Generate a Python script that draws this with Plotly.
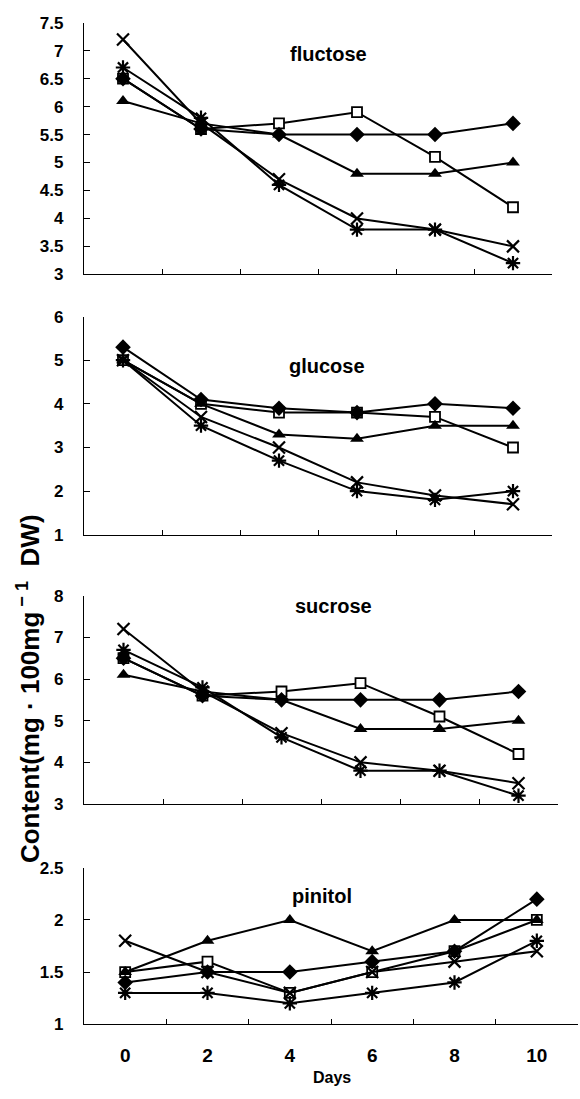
import plotly.graph_objects as go

# Sampling days (categories on the x axis)
days = ["0", "2", "4", "6", "8", "10"]

# Sugar contents, mg per 100 mg DW, one list per treatment marker
fluctose_diamond = [6.5, 5.6, 5.5, 5.5, 5.5, 5.7]
fluctose_square = [6.5, 5.6, 5.7, 5.9, 5.1, 4.2]
fluctose_triangle = [6.1, 5.7, 5.5, 4.8, 4.8, 5.0]
fluctose_cross = [7.2, 5.7, 4.7, 4.0, 3.8, 3.5]
fluctose_star = [6.7, 5.8, 4.6, 3.8, 3.8, 3.2]

glucose_diamond = [5.3, 4.1, 3.9, 3.8, 4.0, 3.9]
glucose_square = [5.0, 4.0, 3.8, 3.8, 3.7, 3.0]
glucose_triangle = [5.0, 4.0, 3.3, 3.2, 3.5, 3.5]
glucose_cross = [5.0, 3.7, 3.0, 2.2, 1.9, 1.7]
glucose_star = [5.0, 3.5, 2.7, 2.0, 1.8, 2.0]

sucrose_diamond = [6.5, 5.6, 5.5, 5.5, 5.5, 5.7]
sucrose_square = [6.5, 5.6, 5.7, 5.9, 5.1, 4.2]
sucrose_triangle = [6.1, 5.7, 5.5, 4.8, 4.8, 5.0]
sucrose_cross = [7.2, 5.7, 4.7, 4.0, 3.8, 3.5]
sucrose_star = [6.7, 5.8, 4.6, 3.8, 3.8, 3.2]

pinitol_diamond = [1.4, 1.5, 1.5, 1.6, 1.7, 2.2]
pinitol_square = [1.5, 1.6, 1.3, 1.5, 1.7, 2.0]
pinitol_triangle = [1.5, 1.8, 2.0, 1.7, 2.0, 2.0]
pinitol_cross = [1.8, 1.5, 1.3, 1.5, 1.6, 1.7]
pinitol_star = [1.3, 1.3, 1.2, 1.3, 1.4, 1.8]

# y tick values and their labels for each panel
fluctose_ticks = [3, 3.5, 4, 4.5, 5, 5.5, 6, 6.5, 7, 7.5]
fluctose_labels = ["3", "3.5", "4", "4.5", "5", "5.5", "6", "6.5", "7", "7.5"]
glucose_ticks = [1, 2, 3, 4, 5, 6]
glucose_labels = ["1", "2", "3", "4", "5", "6"]
sucrose_ticks = [3, 4, 5, 6, 7, 8]
sucrose_labels = ["3", "4", "5", "6", "7", "8"]
pinitol_ticks = [1, 1.5, 2, 2.5]
pinitol_labels = ["1", "1.5", "2", "2.5"]

panel_names = ["fluctose", "glucose", "sucrose", "pinitol"]
panel_series = [
    [fluctose_square, fluctose_diamond, fluctose_triangle, fluctose_cross, fluctose_star],
    [glucose_square, glucose_diamond, glucose_triangle, glucose_cross, glucose_star],
    [sucrose_square, sucrose_diamond, sucrose_triangle, sucrose_cross, sucrose_star],
    [pinitol_square, pinitol_diamond, pinitol_triangle, pinitol_cross, pinitol_star],
]
panel_ticks = [
    (fluctose_ticks, fluctose_labels),
    (glucose_ticks, glucose_labels),
    (sucrose_ticks, sucrose_labels),
    (pinitol_ticks, pinitol_labels),
]

W, H = 580, 1099
# plot boxes in pixels: (left, right, top, bottom)
boxes = [
    (84, 552, 14, 270),
    (84, 552, 313, 535),
    (84, 558, 597, 809),
    (84, 578, 874, 1033),
]
title_pos = [(328, 46), (327, 363), (333, 608), (322, 903)]

# marker styles, in drawing order (open square first so others sit on top)
styles = [
    dict(symbol="square", size=10, color="white", line=dict(color="black", width=1.8)),
    dict(symbol="diamond", size=12, color="black", line=dict(color="black", width=0)),
    dict(symbol="triangle-up", size=12, color="black", line=dict(color="black", width=0)),
    dict(symbol="x-thin", size=12, color="black", line=dict(color="black", width=2.2)),
    dict(symbol="asterisk", size=12, color="black", line=dict(color="black", width=2.2)),
]

FONT = "Liberation Sans, Arial, sans-serif"
bold = lambda s: "<b>" + s + "</b>"

fig = go.Figure()
annotations = []
for i, (name, series) in enumerate(zip(panel_names, panel_series)):
    n = "" if i == 0 else str(i + 1)
    for vals, st in zip(series, styles):
        fig.add_trace(go.Scatter(
            x=days, y=vals, mode="lines+markers",
            xaxis="x" + n, yaxis="y" + n,
            line=dict(color="black", width=2),
            marker=st, showlegend=False, cliponaxis=False,
        ))
    l, r, t, b = boxes[i]
    last = i == 3
    fig.layout["xaxis" + n] = dict(
        type="category", categoryorder="array", categoryarray=days,
        domain=[l / W, r / W], anchor="y" + n,
        range=[-0.5, 5.5],
        showline=True, linecolor="black", linewidth=1.2,
        ticks="inside", tickson="boundaries", ticklen=5, tickcolor="black", tickwidth=1,
        showgrid=False, zeroline=False,
        showticklabels=last,
        tickmode="array", tickvals=days, ticktext=[bold(d) for d in days],
        tickfont=dict(family=FONT, size=19, color="black"),
        ticklabelstandoff=14,
    )
    tv, tt = panel_ticks[i]
    fig.layout["yaxis" + n] = dict(
        domain=[1 - b / H, 1 - t / H], anchor="x" + n,
        range=[tv[0], tv[-1]],
        tickmode="array", tickvals=tv, ticktext=[bold(s) for s in tt],
        showline=True, linecolor="black", linewidth=1.2,
        ticks="inside", ticklen=6, tickcolor="black", tickwidth=1,
        showgrid=False, zeroline=False,
        tickfont=dict(family=FONT, size=17, color="black"), ticklabelstandoff=16,
    )
    tx, ty = title_pos[i]
    annotations.append(dict(
        x=tx / W, y=1 - ty / H, xref="paper", yref="paper",
        text=bold(name), showarrow=False, xanchor="center", yanchor="middle",
        font=dict(family=FONT, size=20, color="black"),
    ))

annotations.append(dict(
    x=332 / W, y=1 - 1087 / H, xref="paper", yref="paper",
    text=bold("Days"), showarrow=False, xanchor="center", yanchor="middle",
    font=dict(family=FONT, size=16, color="black"),
))
annotations.append(dict(
    x=28 / W, y=1 - 692 / H, xref="paper", yref="paper",
    text=bold("Content(mg \u00b7 100mg<sup> \u2212 1</sup>  DW)"), textangle=-90,
    showarrow=False, xanchor="center", yanchor="middle",
    font=dict(family=FONT, size=26, color="black"),
))

fig.update_layout(
    width=W, height=H,
    margin=dict(l=0, r=0, t=0, b=0),
    paper_bgcolor="white", plot_bgcolor="white",
    annotations=annotations,
    showlegend=False,
)

fig.write_html("out.html")
